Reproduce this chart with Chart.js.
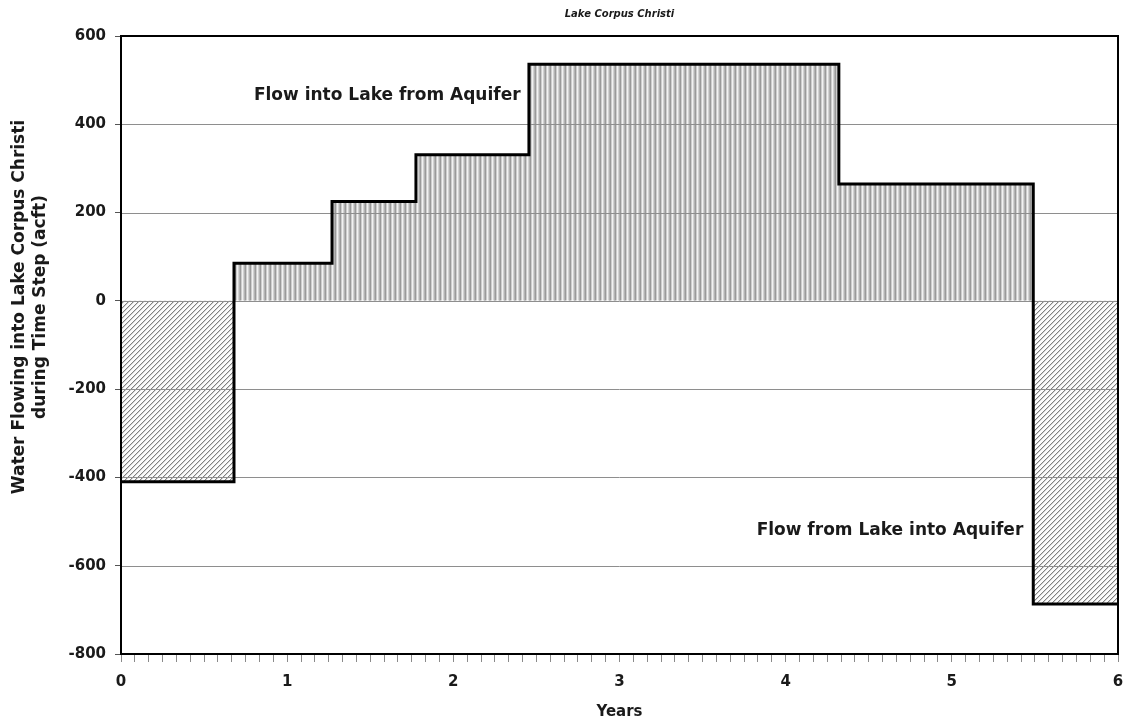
<!DOCTYPE html>
<html>
<head>
<meta charset="utf-8">
<script src="https://cdn.jsdelivr.net/npm/chart.js@4/dist/chart.umd.min.js"></script>
<style>
  body { margin: 0; background: #fff; }
  #wrap { width: 1128px; height: 722px; }
</style>
</head>
<body>
<div id="wrap"><canvas id="chart" width="1128" height="722"></canvas></div>
<script>
// time step boundaries (years) and the flow during each step (acft)
const stepStart = [0, 0.68, 1.27, 1.775, 2.455, 4.32, 5.49];
const stepFlow = [-410, 85, 225, 331, 536, 265, -687];
const lastYear = 6;

const yMin = -800, yMax = 600, yStep = 200;
const monthsPerYear = 12;

const yTitle = ['Water Flowing into Lake Corpus Christi', 'during Time Step (acft)'];
const notes = [
  { text: 'Flow into Lake from Aquifer', x: 0.80, y: 456, align: 'left' },
  { text: 'Flow from Lake into Aquifer', x: 5.43, y: -531, align: 'right' }
];

const FONT = '"DejaVu Sans", sans-serif';
const INK = '#1a1a1a';

// step line points: each value holds until the next boundary
const points = stepStart.map((x, i) => ({ x: x, y: stepFlow[i] }));
points.push({ x: lastYear, y: stepFlow[stepFlow.length - 1] });

const canvas = document.getElementById('chart');
const ctx = canvas.getContext('2d');

function makePattern(w, h, paint) {
  const c = document.createElement('canvas');
  c.width = w; c.height = h;
  paint(c.getContext('2d'));
  return ctx.createPattern(c, 'repeat');
}

// fine vertical hatch for inflow
const vertHatch = makePattern(5, 4, g => {
  const cols = ['#9a9a9a', '#cecece', '#f2f2f2', '#d2d2d2', '#b4b4b4'];
  cols.forEach((c, i) => { g.fillStyle = c; g.fillRect(i, 0, 1, 4); });
});

// diagonal hatch for outflow
const diagHatch = makePattern(5, 5, g => {
  g.fillStyle = '#fbfbfb';
  g.fillRect(0, 0, 5, 5);
  for (let i = 0; i < 5; i++) {
    g.fillStyle = '#808080';
    g.fillRect(i, 4 - i, 1, 1);
    g.fillStyle = '#d2d2d2';
    g.fillRect((i + 1) % 5, 4 - i, 1, 1);
  }
});

const overlay = {
  id: 'overlay',
  // grid lines sit on top of the hatching but under the step line
  beforeDatasetDraw(chart) {
    const { ctx, chartArea: a, scales: { y } } = chart;
    ctx.save();
    ctx.strokeStyle = '#8e8e8e';
    ctx.lineWidth = 1;
    y.ticks.forEach(t => {
      const py = Math.round(y.getPixelForValue(t.value)) + 0.5;
      ctx.beginPath();
      ctx.moveTo(a.left, py);
      ctx.lineTo(a.right, py);
      ctx.stroke();
    });
    ctx.restore();
  },
  afterDatasetsDraw(chart) {
    const { ctx, chartArea: a, scales: { x, y } } = chart;
    ctx.save();
    ctx.strokeStyle = '#000';
    ctx.lineWidth = 2;
    ctx.strokeRect(a.left, a.top, a.right - a.left, a.bottom - a.top);

    ctx.fillStyle = INK;
    ctx.font = 'bold 17px ' + FONT;
    ctx.textBaseline = 'alphabetic';
    notes.forEach(n => {
      ctx.textAlign = n.align;
      ctx.fillText(n.text, x.getPixelForValue(n.x), y.getPixelForValue(n.y));
    });
    ctx.restore();
  },
  afterDraw(chart) {
    const { ctx } = chart;
    ctx.save();
    ctx.fillStyle = INK;
    ctx.font = 'bold 17px ' + FONT;
    ctx.textAlign = 'center';
    ctx.textBaseline = 'middle';
    ctx.translate(20, 307);
    ctx.rotate(-Math.PI / 2);
    yTitle.forEach((line, i) => ctx.fillText(line, 0, i * 21));
    ctx.restore();
  }
};

const config = {
  type: 'line',
  data: {
    datasets: [{
      data: points,
      stepped: 'before',
      borderColor: '#000',
      borderWidth: 3,
      pointRadius: 0,
      fill: { target: 'origin', above: vertHatch, below: diagHatch }
    }]
  },
  options: {
    responsive: false,
    animation: false,
    layout: { padding: { left: 0, right: 10, top: 0, bottom: 0 } },
    plugins: {
      legend: { display: false },
      tooltip: { enabled: false },
      title: {
        display: true,
        text: 'Lake Corpus Christi',
        fullSize: false,
        color: INK,
        font: { family: FONT, size: 10, weight: 'bold', style: 'italic' },
        padding: { top: 8, bottom: 16 }
      }
    },
    scales: {
      x: {
        type: 'linear',
        min: 0,
        max: lastYear,
        afterBuildTicks(scale) {
          const ticks = [];
          for (let m = 0; m <= lastYear * monthsPerYear; m++) ticks.push({ value: m / monthsPerYear });
          scale.ticks = ticks;
        },
        afterFit(scale) {
          scale.paddingLeft = 0;
          scale.paddingRight = 0;
        },
        ticks: {
          autoSkip: false,
          maxRotation: 0,
          padding: 11,
          color: INK,
          font: { family: FONT, size: 15, weight: 'bold' },
          callback: v => Math.abs(v - Math.round(v)) < 1e-6 ? String(Math.round(v)) : ''
        },
        grid: { drawOnChartArea: false, tickLength: 8, tickColor: '#8a8a8a' },
        border: { color: '#000', width: 2 },
        title: {
          display: true,
          text: 'Years',
          color: INK,
          font: { family: FONT, size: 15, weight: 'bold' },
          padding: { top: 1, bottom: 1 }
        }
      },
      y: {
        min: yMin,
        max: yMax,
        afterFit(scale) { scale.width = 121; },
        ticks: {
          stepSize: yStep,
          padding: 9,
          color: INK,
          font: { family: FONT, size: 15, weight: 'bold' }
        },
        grid: { drawOnChartArea: false, tickLength: 6, tickColor: '#555' },
        border: { color: '#000', width: 2 }
      }
    }
  },
  plugins: [overlay]
};

const myChart = new Chart(ctx, config);
</script>
</body>
</html>
